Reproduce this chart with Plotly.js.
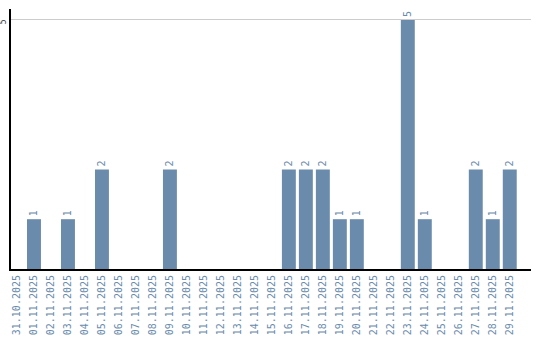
<!DOCTYPE html>
<html><head><meta charset="utf-8">
<script src="https://cdn.plot.ly/plotly-3.0.1.min.js"></script>
<style>html,body{margin:0;padding:0;background:#fff;}#chart{width:540px;height:340px;}</style>
</head><body><div id="chart"></div>
<script>
const dates = ["31.10.2025","01.11.2025","02.11.2025","03.11.2025","04.11.2025","05.11.2025","06.11.2025","07.11.2025","08.11.2025","09.11.2025","10.11.2025","11.11.2025","12.11.2025","13.11.2025","14.11.2025","15.11.2025","16.11.2025","17.11.2025","18.11.2025","19.11.2025","20.11.2025","21.11.2025","22.11.2025","23.11.2025","24.11.2025","25.11.2025","26.11.2025","27.11.2025","28.11.2025","29.11.2025"];
const counts = [0,1,0,1,0,2,0,0,0,2,0,0,0,0,0,0,2,2,2,1,1,0,0,5,1,0,0,2,1,2];
const yTicks = [5];

const labels = counts.map(v => v > 0 ? String(v) : "");
const blue = "#6a8bab";
const trace = {
  type: "bar", x: dates, y: counts,
  marker: {color: blue},
  width: 0.82,
  text: labels, textposition: "outside", textangle: -90,
  cliponaxis: false,
  textfont: {family: "DejaVu Sans Mono", size: 10, color: "#6a8bab"},
  hoverinfo: "none"
};
const layout = {
  width: 540, height: 340,
  margin: {l: 11, r: 9, t: 9, b: 71},
  paper_bgcolor: "#fff", plot_bgcolor: "#fff",
  showlegend: false,
  xaxis: {
    type: "category", range: [-0.353, 30.25], fixedrange: true,
    tickangle: -90, showgrid: false, showline: true, linecolor: "#000", linewidth: 2,
    ticks: "", automargin: false,
    tickfont: {family: "DejaVu Sans Mono", size: 10, color: "#6a8bab"}
  },
  yaxis: {
    range: [0, 5.22], tickvals: yTicks, ticktext: yTicks.map(String),
    tickangle: -90, showgrid: true, gridcolor: "#cccccc", gridwidth: 1,
    showline: true, linecolor: "#000", linewidth: 2, zeroline: false,
    ticks: "", automargin: false, ticklabelstandoff: 0, ticklabelshift: 3,
    tickfont: {family: "DejaVu Sans Mono", size: 8, color: "#333"}
  }
};
Plotly.newPlot("chart", [trace], layout, {staticPlot: true, displayModeBar: false});
</script></body></html>
